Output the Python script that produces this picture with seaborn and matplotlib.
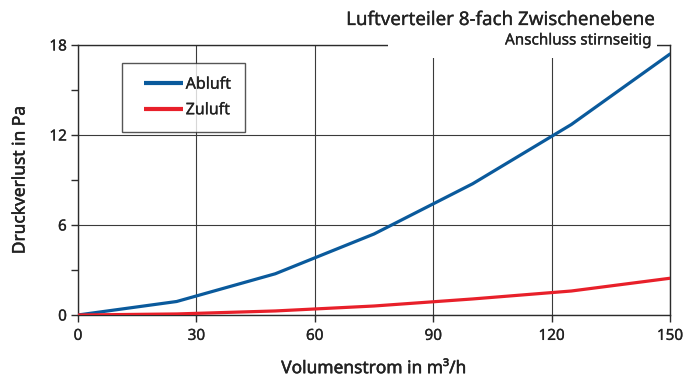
import matplotlib
matplotlib.use("Agg")
import matplotlib.pyplot as plt
import matplotlib.patheffects as pe
from matplotlib.lines import Line2D
from matplotlib.legend_handler import HandlerLine2D
from matplotlib.patches import Rectangle
from matplotlib.ticker import MultipleLocator
import seaborn as sns
import pandas as pd

# Pressure loss of the 8-way air distributor (intermediate level)
volumenstrom = [0, 25, 50, 75, 100, 125, 150]
abluft = [0, 0.9, 2.75, 5.4, 8.75, 12.7, 17.4]
zuluft = [0, 0.07, 0.27, 0.6, 1.07, 1.6, 2.45]
series_names = ["Abluft", "Zuluft"]
x_ticks = [0, 30, 60, 90, 120, 150]
y_ticks = [0, 6, 12, 18]

df = pd.DataFrame({
    "Volumenstrom": volumenstrom * 2,
    "Druckverlust": abluft + zuluft,
    "Serie": [series_names[0]] * len(volumenstrom) + [series_names[1]] * len(volumenstrom),
})

sns.set_theme(style="white")
plt.rcParams["font.family"] = ["Noto Sans", "DejaVu Sans"]
text_col = "#222222"
# slightly heavier strokes for the lettering
heavy = [pe.withStroke(linewidth=0.2, foreground=text_col)]
heavier = [pe.withStroke(linewidth=0.35, foreground=text_col)]

fig = plt.figure(figsize=(6.96, 3.83), dpi=100)
ax = fig.add_axes([78 / 696, 1 - 315 / 383, 592 / 696, 270 / 383])

sns.lineplot(data=df, x="Volumenstrom", y="Druckverlust", hue="Serie",
             palette={"Abluft": "#0a5a9c", "Zuluft": "#e8202a"},
             linewidth=2.3, ax=ax, zorder=4)

ax.set_xlim(0, 150)
ax.set_ylim(0, 18)
ax.set_xticks(x_ticks)
ax.set_yticks(y_ticks)
ax.yaxis.set_minor_locator(MultipleLocator(3))
ax.grid(True, which="major", color="#3a3a3a", linewidth=0.8)
ax.set_axisbelow(True)
for s in ax.spines.values():
    s.set_color("#2b2b2b")
    s.set_linewidth(1.0)
    s.set_visible(True)

ax.tick_params(axis="both", which="major", direction="out", length=5, width=1,
               color="#2b2b2b", labelsize=11, labelcolor=text_col, pad=3,
               left=True, bottom=True)
ax.tick_params(axis="y", which="minor", direction="out", length=5, width=1,
               color="#2b2b2b", left=True)
ax.tick_params(axis="x", which="major", pad=5)
for lab in ax.get_xticklabels() + ax.get_yticklabels():
    lab.set_path_effects(heavy)

ax.set_xlabel("Volumenstrom in m³/h", fontsize=12.5, color=text_col,
              labelpad=11, path_effects=heavier)
ax.set_ylabel("Druckverlust in Pa", fontsize=12.5, color=text_col,
              labelpad=15, path_effects=heavier)

handles, labels = ax.get_legend_handles_labels()
leg = ax.legend(handles, labels, title=None, loc="upper left",
                bbox_to_anchor=(0.074, 0.933),
                borderaxespad=0, frameon=True, fancybox=False, fontsize=11.5,
                handlelength=2.95, handletextpad=0.2, borderpad=0.85,
                labelspacing=0.6,
                handler_map={Line2D: HandlerLine2D(xpad=0.56)})
leg.get_frame().set_edgecolor("#2b2b2b")
leg.get_frame().set_linewidth(1.0)
for t in leg.get_texts():
    t.set_color(text_col)
    t.set_path_effects(heavy)
for h in leg.get_lines():
    h.set_linewidth(3.0)
    h.set_solid_capstyle("butt")

# white panel behind the heading, breaking the frame and grid
ax.add_patch(Rectangle((78.5, 17.15), 68.2, 3.5, transform=ax.transData,
                       facecolor="white", edgecolor="none", zorder=2.6,
                       clip_on=False))

fig.text(655 / 696, 1 - 20 / 383, "Luftverteiler 8-fach Zwischenebene",
         ha="right", va="center", fontsize=13.5, color=text_col,
         path_effects=heavy)
fig.text(652 / 696, 1 - 41 / 383, "Anschluss stirnseitig",
         ha="right", va="center", fontsize=11, color=text_col,
         path_effects=heavy)

fig.savefig("out.png", dpi=100)
